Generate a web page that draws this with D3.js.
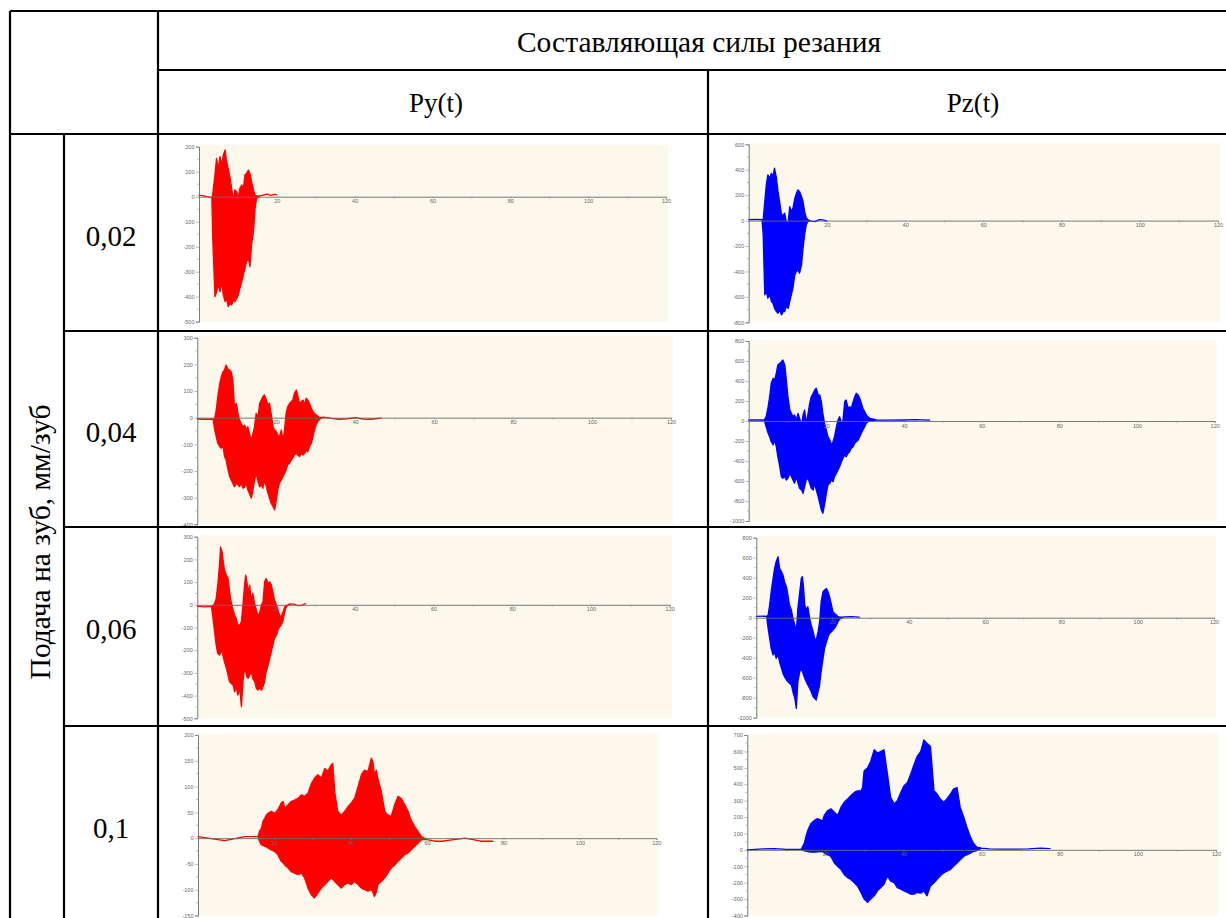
<!DOCTYPE html>
<html>
<head>
<meta charset="utf-8">
<script src="https://cdn.jsdelivr.net/npm/d3@7"></script>
<style>
  html, body { margin: 0; padding: 0; background: #fff; }
  svg { display: block; }
</style>
</head>
<body>
<div id="viz"></div>
<script>
// cutting force oscillograms, table of Py(t)/Pz(t) by feed per tooth

var width = 1226, height = 918;

// --- data ---
var components = ["Py(t)", "Pz(t)"];
var feeds = ["0,02", "0,04", "0,06", "0,1"];
var xTicks = [10, 20, 30, 40, 50, 60, 70, 80, 90, 100, 110, 120];
var xLabels = [20, 40, 60, 80, 100, 120];

// y ranges and label step for each plot, row by row (Py, Pz)
var yDomains = [[-500, 200], [-800, 600], [-400, 300], [-1000, 800], [-500, 300], [-1000, 800], [-150, 200], [-400, 700]];
var ySteps = [100, 200, 100, 200, 100, 200, 50, 100];

// envelope of the signal: [t, max, min]
var py002 = [[0,5,5],[1,4,4],[2,0,0],[3,-3,-3],[3.3,-4,-4],
  [3.5,7,-153],[4.1,87,-400],[4.5,153,-380],[5.0,113,-353],[5.4,160,-380],[5.8,127,-340],[6.25,167,-393],[6.7,187,-420],[7.1,140,-407],[7.5,113,-440],[8.0,73,-427],[8.4,33,-433],[8.8,-20,-413],[9.2,27,-420],[9.7,20,-407],[10.1,-7,-393],[10.5,33,-367],[11.0,47,-340],[11.4,33,-313],[11.8,87,-287],[12.2,93,-260],[12.7,107,-247],[13.1,93,-280],[13.5,60,-193],[14.0,27,-140],[14.4,7,-47],[14.8,3,-7],
  [15.5,2,2],[16.5,6,6],[17.5,10,10],[18.5,5,5],[19.5,9,9],[20,7,7]];

var pz002 = [[0,8,8],[2,10,10],[3.4,8,8],
  [3.7,5,-113],[4.1,150,-584],[4.5,281,-558],[4.9,359,-611],[5.4,333,-584],[5.8,372,-637],[6.2,346,-650],[6.6,412,-690],[7.1,333,-716],[7.5,228,-729],[7.9,150,-703],[8.4,45,-742],[8.8,45,-716],[9.2,58,-716],[9.6,-8,-677],[10.1,-8,-690],[10.5,110,-637],[10.9,71,-584],[11.3,97,-532],[11.8,176,-427],[12.2,215,-401],[12.6,242,-388],[13.0,228,-414],[13.5,189,-348],[13.9,150,-217],[14.3,71,-113],[14.7,24,-34],[15.2,5,-3],
  [16,-5,-5],[17,-8,-8],[18,8,8],[19,5,5],[20,-5,-5]];

var py004 = [[0,-5,-5],[2,-6,-6],[4,-5,-5],
  [4.4,-3,-46],[4.8,29,-71],[5.2,79,-96],[5.7,129,-109],[6.1,154,-115],[6.5,172,-103],[6.9,179,-146],[7.3,198,-159],[7.8,181,-196],[8.2,179,-221],[8.6,172,-234],[9.0,141,-246],[9.4,41,-259],[9.9,54,-246],[10.3,16,-252],[10.7,-9,-259],[11.1,-21,-246],[11.6,-34,-265],[12.0,-28,-259],[12.4,-46,-246],[12.8,-34,-271],[13.2,-59,-284],[13.7,-84,-302],[14.1,-59,-271],[14.5,-34,-234],[14.9,16,-209],[15.4,4,-240],[15.8,54,-259],[16.2,66,-252],[16.6,79,-265],[17.0,85,-234],[17.5,66,-259],[17.9,48,-284],[18.3,54,-302],[18.7,16,-321],[19.2,-34,-334],[19.6,-46,-346],[20.0,-52,-309],[20.4,-65,-271],[20.8,-71,-246],[21.3,-46,-234],[21.7,-84,-221],[22.1,-46,-209],[22.5,16,-196],[22.9,41,-177],[23.4,54,-171],[23.8,60,-159],[24.2,66,-152],[24.6,91,-140],[25.1,104,-134],[25.5,79,-140],[25.9,54,-146],[26.3,60,-134],[26.8,66,-140],[27.2,48,-134],[27.6,73,-121],[28.0,66,-128],[28.4,54,-109],[28.9,35,-96],[29.3,22,-71],[29.7,16,-46],[30.1,10,-27],[30.5,6,-15],[31.0,0,-6],
  [32,2,2],[34,-3,-3],[36,-6,-6],[38,-4,-4],[40,0,0],[42,-5,-5],[44,-6,-6],[46.6,-2,-2]];

var pz004 = [[0,10,10],[2,12,12],[4,10,10],
  [4.5,43,-57],[5.0,143,-123],[5.4,243,-157],[5.8,377,-207],[6.3,427,-240],[6.7,410,-190],[7.1,477,-257],[7.5,560,-357],[8.0,577,-457],[8.4,593,-557],[8.8,610,-573],[9.3,560,-557],[9.7,410,-590],[10.1,243,-573],[10.6,110,-523],[11.0,77,-557],[11.4,43,-590],[11.8,60,-623],[12.3,10,-557],[12.7,77,-623],[13.1,27,-673],[13.6,-40,-690],[14.0,60,-723],[14.4,110,-657],[14.8,-23,-590],[15.3,77,-573],[15.7,177,-623],[16.1,243,-673],[16.6,277,-690],[17.0,310,-623],[17.4,327,-690],[17.9,260,-757],[18.3,260,-823],[18.7,193,-890],[19.1,77,-923],[19.6,-40,-823],[20.0,-90,-723],[20.4,-157,-640],[20.9,-190,-623],[21.3,-240,-590],[21.7,-207,-607],[22.1,-157,-557],[22.6,-57,-523],[23.0,10,-490],[23.4,43,-457],[23.9,-23,-407],[24.3,10,-373],[24.7,193,-340],[25.1,210,-357],[25.6,127,-323],[26.0,143,-307],[26.4,127,-273],[26.9,193,-257],[27.3,243,-223],[27.7,277,-207],[28.2,260,-190],[28.6,227,-157],[29.0,177,-123],[29.4,127,-90],[29.9,93,-57],[30.3,60,-23],[30.7,43,-7],[31.2,27,0],
  [33,12,12],[36,8,8],[40,10,10],[43,14,14],[46.6,8,8]];

var py006 = [[0,-7,-7],[2,-9,-9],[3.6,-7,-7],
  [4.0,-4,-60],[4.4,6,-119],[4.8,28,-178],[5.2,87,-215],[5.7,189,-222],[5.9,255,-210],[6.3,233,-207],[6.5,204,-222],[6.9,153,-251],[7.4,131,-280],[7.8,116,-310],[8.2,57,-339],[8.6,13,-346],[9.1,-23,-354],[9.5,-46,-383],[9.9,-60,-361],[10.3,-90,-398],[10.8,-90,-369],[11.2,-75,-449],[11.6,0,-340],[12.0,87,-280],[12.3,131,-295],[12.6,101,-317],[12.9,57,-324],[13.3,87,-310],[13.7,21,-295],[14.1,50,-325],[14.6,0,-339],[15.0,-23,-368],[15.4,-46,-376],[15.8,-38,-368],[16.3,0,-376],[16.7,13,-361],[17.1,101,-339],[17.5,116,-295],[18.0,94,-266],[18.4,101,-236],[18.8,87,-207],[19.2,57,-178],[19.6,21,-148],[20.1,0,-134],[20.5,-23,-112],[20.9,-46,-97],[21.3,-53,-90],[21.8,-31,-68],[22.2,-9,-31],[22.6,-4,-9],
  [23.5,4,4],[24.5,3,3],[25.5,-4,-4],[26.5,-2,-2],[27.5,5,5]];

var pz006 = [[0,13,13],[2,15,15],[2.7,13,13],
  [3.1,27,-107],[3.5,127,-207],[3.9,260,-307],[4.4,393,-373],[4.8,493,-340],[5.2,560,-407],[5.7,610,-373],[6.1,493,-440],[6.6,460,-507],[7.0,427,-557],[7.4,360,-590],[7.9,310,-623],[8.3,227,-640],[8.7,127,-657],[9.2,77,-673],[9.6,-7,-740],[10.1,-73,-807],[10.5,-140,-907],[10.9,93,-640],[11.4,260,-540],[11.8,393,-507],[12.1,410,-540],[12.4,293,-573],[12.7,127,-607],[13.1,77,-640],[13.5,110,-673],[14.0,-7,-707],[14.4,-73,-740],[14.9,-140,-790],[15.3,-207,-807],[15.7,-223,-823],[16.2,-140,-740],[16.6,-40,-673],[17.0,160,-540],[17.5,260,-407],[17.9,277,-307],[18.4,293,-240],[18.8,260,-190],[19.2,210,-157],[19.7,127,-140],[20.1,60,-123],[20.5,43,-107],[21.0,27,-73],[21.4,10,-40],[21.9,5,-13],
  [23,8,8],[25,10,10],[27,5,5]];

var py01 = [[0,3,3],[2.6,0,0],[5.2,-3,-3],[7,-5,-5],[9.6,-1,-1],[12.2,3,3],[14.8,3,3],[15.7,3,3],
  [16.1,13,-6],[16.6,19,-13],[17.0,32,-14],[17.5,39,-16],[17.9,45,-17],[18.3,48,-19],[19.2,52,-23],[20.1,48,-26],[20.9,55,-32],[21.8,68,-45],[22.3,71,-48],[22.7,58,-52],[23.6,65,-58],[24.4,71,-65],[25.3,74,-68],[26.2,77,-71],[27.1,84,-68],[27.9,81,-77],[28.8,87,-97],[29.7,106,-110],[30.5,116,-116],[31.4,123,-106],[32.3,116,-97],[33.2,135,-90],[34.0,130,-84],[34.9,142,-77],[35.3,145,-80],[35.8,90,-84],[36.6,52,-90],[37.5,45,-97],[38.4,52,-90],[39.3,61,-87],[40.1,68,-90],[41.0,77,-84],[41.9,100,-90],[42.8,123,-97],[43.6,132,-100],[44.5,129,-103],[45.4,155,-100],[45.8,148,-105],[46.2,123,-113],[46.7,132,-105],[47.1,116,-90],[48.0,90,-84],[48.9,52,-77],[49.7,45,-68],[50.6,42,-58],[51.5,65,-52],[52.4,81,-45],[53.2,77,-39],[54.1,65,-32],[55.0,52,-29],[55.8,35,-23],[56.7,23,-16],[57.6,13,-10],[58.5,3,-3],
  [60,-3,-3],[62,-6,-6],[64,-6,-6],[66,-4,-4],[68,-2,-2],[70,0,0],[72,-3,-3],[74,-6,-6],[77.2,-6,-6]];

var pz01 = [[0,0,0],[3,5,5],[7,8,8],[10,3,3],[13.8,3,3],
  [14.6,40,-6],[15.0,80,-8],[15.5,120,-10],[15.9,140,-12],[16.3,160,-14],[17.2,180,-14],[18.0,190,-12],[18.9,180,-10],[19.3,180,-10],[19.7,210,-20],[20.6,240,-30],[21.4,250,-40],[22.3,230,-80],[23.1,210,-100],[24.0,260,-120],[24.8,290,-150],[25.7,310,-170],[26.5,330,-180],[27.4,350,-200],[28.2,360,-220],[29.1,360,-260],[29.5,380,-280],[29.9,480,-300],[30.8,500,-320],[31.6,540,-300],[32.5,610,-280],[33.3,590,-250],[34.2,600,-230],[35.0,610,-210],[35.9,460,-160],[36.7,320,-190],[37.6,280,-200],[38.4,300,-230],[39.3,350,-240],[40.1,390,-250],[41.0,410,-260],[41.8,460,-270],[42.7,520,-270],[43.5,570,-260],[44.4,600,-264],[45.2,670,-250],[46.0,650,-280],[46.9,630,-220],[47.8,360,-200],[48.6,340,-180],[49.4,310,-160],[50.3,290,-140],[51.1,310,-130],[52.0,340,-120],[52.8,370,-100],[53.7,380,-80],[54.5,260,-60],[55.4,200,-40],[56.2,140,-30],[57.1,80,-20],[57.9,40,-10],[58.8,16,-4],
  [60,10,10],[62,6,6],[65,5,5],[68,4,4],[72,6,6],[75,10,10],[77.5,8,8]];

var series = [py002, pz002, py004, pz004, py006, pz006, py01, pz01];
var colors = ["#ff0000", "#0000ff"];

// --- layout (pixel boxes of each plot: axis x0, x120, top and bottom of y range) ---
var boxes = [
  {x0: 199, x1: 666, yT: 146.7, yB: 321.7},
  {x0: 748.7, x1: 1218, yT: 144.3, yB: 322.3},
  {x0: 197.3, x1: 671, yT: 337.7, yB: 524.3},
  {x0: 748.7, x1: 1214.7, yT: 341, yB: 521},
  {x0: 197.3, x1: 669.7, yT: 536.7, yB: 718.3},
  {x0: 756.3, x1: 1214, yT: 537.7, yB: 717.7},
  {x0: 198, x1: 656.3, yT: 735, yB: 915.5},
  {x0: 747.3, x1: 1216, yT: 735, yB: 915.5}
];

var svg = d3.select("#viz")
  .append("svg")
    .attr("width", width)
    .attr("height", height);

function drawPlot(i) {
  var b = boxes[i], dom = yDomains[i], step = ySteps[i];
  var x = d3.scaleLinear().domain([0, 120]).range([b.x0, b.x1]);
  var y = d3.scaleLinear().domain(dom).range([b.yB, b.yT]);
  var g = svg.append("g").attr("class", "plot");

  g.append("rect")
    .attr("x", b.x0)
    .attr("y", b.yT - 1.5)
    .attr("width", b.x1 - b.x0 + 2)
    .attr("height", b.yB - b.yT + 1.5)
    .attr("fill", "#fdf8ec");

  var area = d3.area()
    .x(function (d) { return x(d[0]); })
    .y0(function (d) { return y(d[2]); })
    .y1(function (d) { return y(d[1]); });

  var col = colors[i % 2];
  g.append("path")
    .datum(series[i])
    .attr("d", area)
    .attr("fill", col)
    .attr("stroke", col)
    .attr("stroke-width", 1.3)
    .attr("stroke-linejoin", "round");

  // y axis with major labels and half-step minor ticks
  var major = d3.range(dom[0], dom[1] + step / 2, step);
  var minor = d3.range(dom[0] + step / 2, dom[1], step);
  var ya = g.append("g")
    .attr("transform", "translate(" + b.x0 + ",0)")
    .call(d3.axisLeft(y).tickValues(major).tickSize(3).tickPadding(1.5)
      .tickFormat(function (d) { return String(d); }));
  g.selectAll("line.minor")
    .data(minor)
    .enter()
    .append("line")
      .attr("class", "minor")
      .attr("x1", b.x0 - 1.8)
      .attr("x2", b.x0)
      .attr("y1", function (d) { return y(d); })
      .attr("y2", function (d) { return y(d); })
      .attr("stroke", "#888")
      .attr("stroke-width", 0.6);

  // x axis along zero
  var xa = g.append("g")
    .attr("transform", "translate(0," + y(0) + ")")
    .call(d3.axisBottom(x)
      .tickValues(xTicks)
      .tickSize(1.8)
      .tickPadding(0.8)
      .tickFormat(function (d) { return xLabels.indexOf(d) >= 0 ? String(d) : ""; }));

  [ya, xa].forEach(function (a) {
    a.select(".domain").attr("stroke", "#6a6a6a").attr("stroke-width", 0.9);
    a.selectAll(".tick line").attr("stroke", "#888").attr("stroke-width", 0.6);
    a.selectAll(".tick text")
      .attr("fill", "#666")
      .style("font-family", "Liberation Sans, Arial, sans-serif")
      .style("font-size", "5.5px");
  });
}

d3.range(8).forEach(drawPlot);

// --- table grid ---
var lines = [
  [10, 11, 1238, 11], [158, 70, 1238, 70], [10, 134, 1238, 134],
  [64, 331, 1238, 331], [64, 527, 1238, 527], [64, 726, 1238, 726],
  [10, 11, 10, 950], [64, 134, 64, 950], [158, 11, 158, 950], [708, 70, 708, 950]
];
svg.selectAll("line.grid")
  .data(lines)
  .enter()
  .append("line")
    .attr("class", "grid")
    .attr("x1", function (d) { return d[0]; })
    .attr("y1", function (d) { return d[1]; })
    .attr("x2", function (d) { return d[2]; })
    .attr("y2", function (d) { return d[3]; })
    .attr("stroke", "#000")
    .attr("stroke-width", 2.2);

var serif = "'Liberation Serif', 'Times New Roman', serif";

function label(txt, cx, cy, rot, size) {
  svg.append("text")
    .text(txt)
    .attr("transform", "translate(" + cx + "," + cy + ")" + (rot ? " rotate(" + rot + ")" : ""))
    .attr("text-anchor", "middle")
    .attr("dominant-baseline", "central")
    .style("font-family", serif)
    .style("font-size", size + "px")
    .attr("fill", "#000");
}

label("Составляющая силы резания", 699, 42, 0, 29.5);
label(components[0], 436, 103, 0, 27);
label(components[1], 973, 103, 0, 27);
var rowMid = [236, 432, 629, 828];
feeds.forEach(function (f, i) { label(f, 111, rowMid[i], 0, 29); });
label("Подача на зуб, мм/зуб", 40, 542, -90, 29.5);
</script>
</body>
</html>
